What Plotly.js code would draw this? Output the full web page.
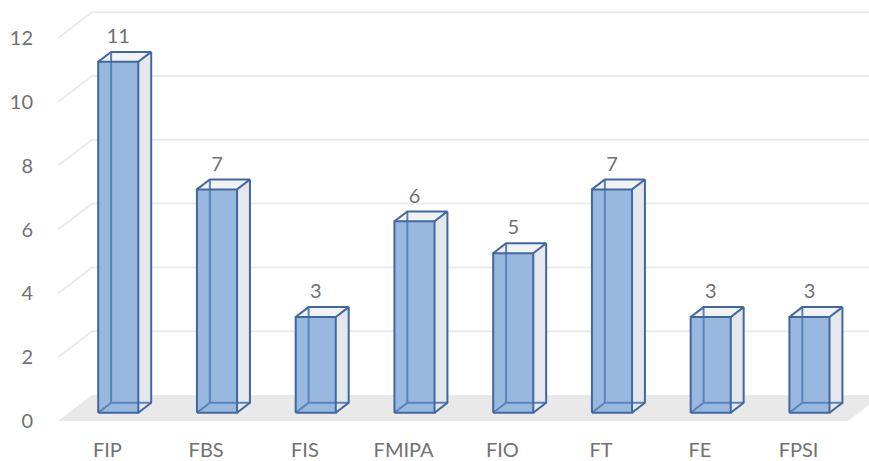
<!DOCTYPE html>
<html>
<head>
<meta charset="utf-8">
<script src="https://cdn.plot.ly/plotly-3.0.1.min.js"></script>
<style>html,body{margin:0;padding:0;background:#fff;}#chart{width:869px;height:461px;}</style>
</head>
<body>
<div id="chart"></div>
<script>
// Data
const categories = ["FIP", "FBS", "FIS", "FMIPA", "FIO", "FT", "FE", "FPSI"];
const values = [11, 7, 3, 6, 5, 7, 3, 3];
const yTickValues = [0, 2, 4, 6, 8, 10, 12];

// 3D oblique projection styling (in axis units)
const DX = 0.344;   // horizontal shift for full depth (category units)
const DY = 0.815;   // vertical shift for full depth (value units)
const HALF_W = 0.203;
const D0 = 0.32, D1 = 0.70;
const XMAX = 8.213;
const LABEL_LIFT = 0.12;

const edgeColor = "#41689e";
const hiddenEdge = "#5a82b8";
const frontFill = "#99b8e0";
const sideFill = "#e4e7ec";
const topFill = "#f1f2f5";
const textColor = "#717171";
const FONT = "Lato, 'Noto Sans', sans-serif";

function P(x, v, d) { return [x + d * DX, v + d * DY]; }

function poly(points, opts) {
  return Object.assign({
    type: "scatter",
    x: points.map(p => p ? p[0] : null),
    y: points.map(p => p ? p[1] : null),
    hoverinfo: "skip",
    showlegend: false
  }, opts);
}

const traces = [];
const n = categories.length;

// floor
traces.push(poly([P(0, 0, 0), P(n, 0, 0), P(n, 0, 1), P(0, 0, 1), P(0, 0, 0)],
  { mode: "lines", fill: "toself", fillcolor: "#e9e9e9", line: { width: 0, color: "rgba(0,0,0,0)" } }));

// gridlines (side wall diagonal + back wall horizontal)
const grid = [];
yTickValues.filter(v => v > 0).forEach(v => {
  grid.push(P(0, v, 0), P(0, v, 1), [XMAX + 1, v + DY], null);
});
traces.push(poly(grid, { mode: "lines", line: { color: "#ebebeb", width: 2 }, connectgaps: false }));

// bars
values.forEach((v, i) => {
  const c = i + 0.5, xl = c - HALF_W, xr = c + HALF_W;
  traces.push(poly([P(xr, 0, D0), P(xr, 0, D1), P(xr, v, D1), P(xr, v, D0), P(xr, 0, D0)],
    { mode: "lines", fill: "toself", fillcolor: sideFill, line: { width: 0, color: "rgba(0,0,0,0)" } }));
  traces.push(poly([P(xl, v, D0), P(xr, v, D0), P(xr, v, D1), P(xl, v, D1), P(xl, v, D0)],
    { mode: "lines", fill: "toself", fillcolor: topFill, line: { width: 0, color: "rgba(0,0,0,0)" } }));
  traces.push(poly([P(xl, 0, D0), P(xr, 0, D0), P(xr, v, D0), P(xl, v, D0), P(xl, 0, D0)],
    { mode: "lines", fill: "toself", fillcolor: frontFill, line: { width: 0, color: "rgba(0,0,0,0)" } }));
  // hidden edges
  traces.push(poly([P(xl, 0, D0), P(xl, 0, D1), P(xr, 0, D1), null, P(xl, 0, D1), P(xl, v, D1)],
    { mode: "lines", line: { color: hiddenEdge, width: 2 }, connectgaps: false }));
  // visible edges
  traces.push(poly([P(xl, 0, D0), P(xr, 0, D0), P(xr, v, D0), P(xl, v, D0), P(xl, 0, D0), null,
    P(xl, v, D0), P(xl, v, D1), P(xr, v, D1), P(xr, v, D0), null,
    P(xr, v, D1), P(xr, 0, D1), P(xr, 0, D0)],
    { mode: "lines", line: { color: edgeColor, width: 2, join: "miter" }, connectgaps: false }));
});

// data labels
traces.push({
  type: "scatter", mode: "text",
  x: values.map((v, i) => i + 0.5 + D0 * DX),
  y: values.map(v => v + D1 * DY + LABEL_LIFT),
  text: values.map(String),
  textposition: "top center",
  textfont: { family: FONT, size: 20, color: textColor },
  cliponaxis: false, hoverinfo: "skip", showlegend: false
});

const layout = {
  width: 869, height: 461,
  margin: { l: 58, r: 0, t: 0, b: 30, pad: 0 },
  paper_bgcolor: "#ffffff", plot_bgcolor: "#ffffff",
  showlegend: false, hovermode: false,
  font: { family: FONT, size: 20, color: textColor },
  xaxis: {
    range: [0, XMAX], showgrid: false, zeroline: false, showline: false,
    tickmode: "array", tickvals: categories.map((c, i) => i + 0.5), ticktext: categories,
    ticks: "outside", ticklen: 1, tickcolor: "rgba(0,0,0,0)",
    tickfont: { family: FONT, size: 20, color: textColor }, fixedrange: true
  },
  yaxis: {
    range: [-0.313, 13.197], showgrid: false, zeroline: false, showline: false,
    tickmode: "array", tickvals: yTickValues, ticktext: yTickValues.map(String),
    ticks: "outside", ticklen: 20, tickcolor: "rgba(0,0,0,0)",
    tickfont: { family: FONT, size: 20, color: textColor }, fixedrange: true
  }
};

Plotly.newPlot("chart", traces, layout, { displayModeBar: false, staticPlot: true });
</script>
</body>
</html>
